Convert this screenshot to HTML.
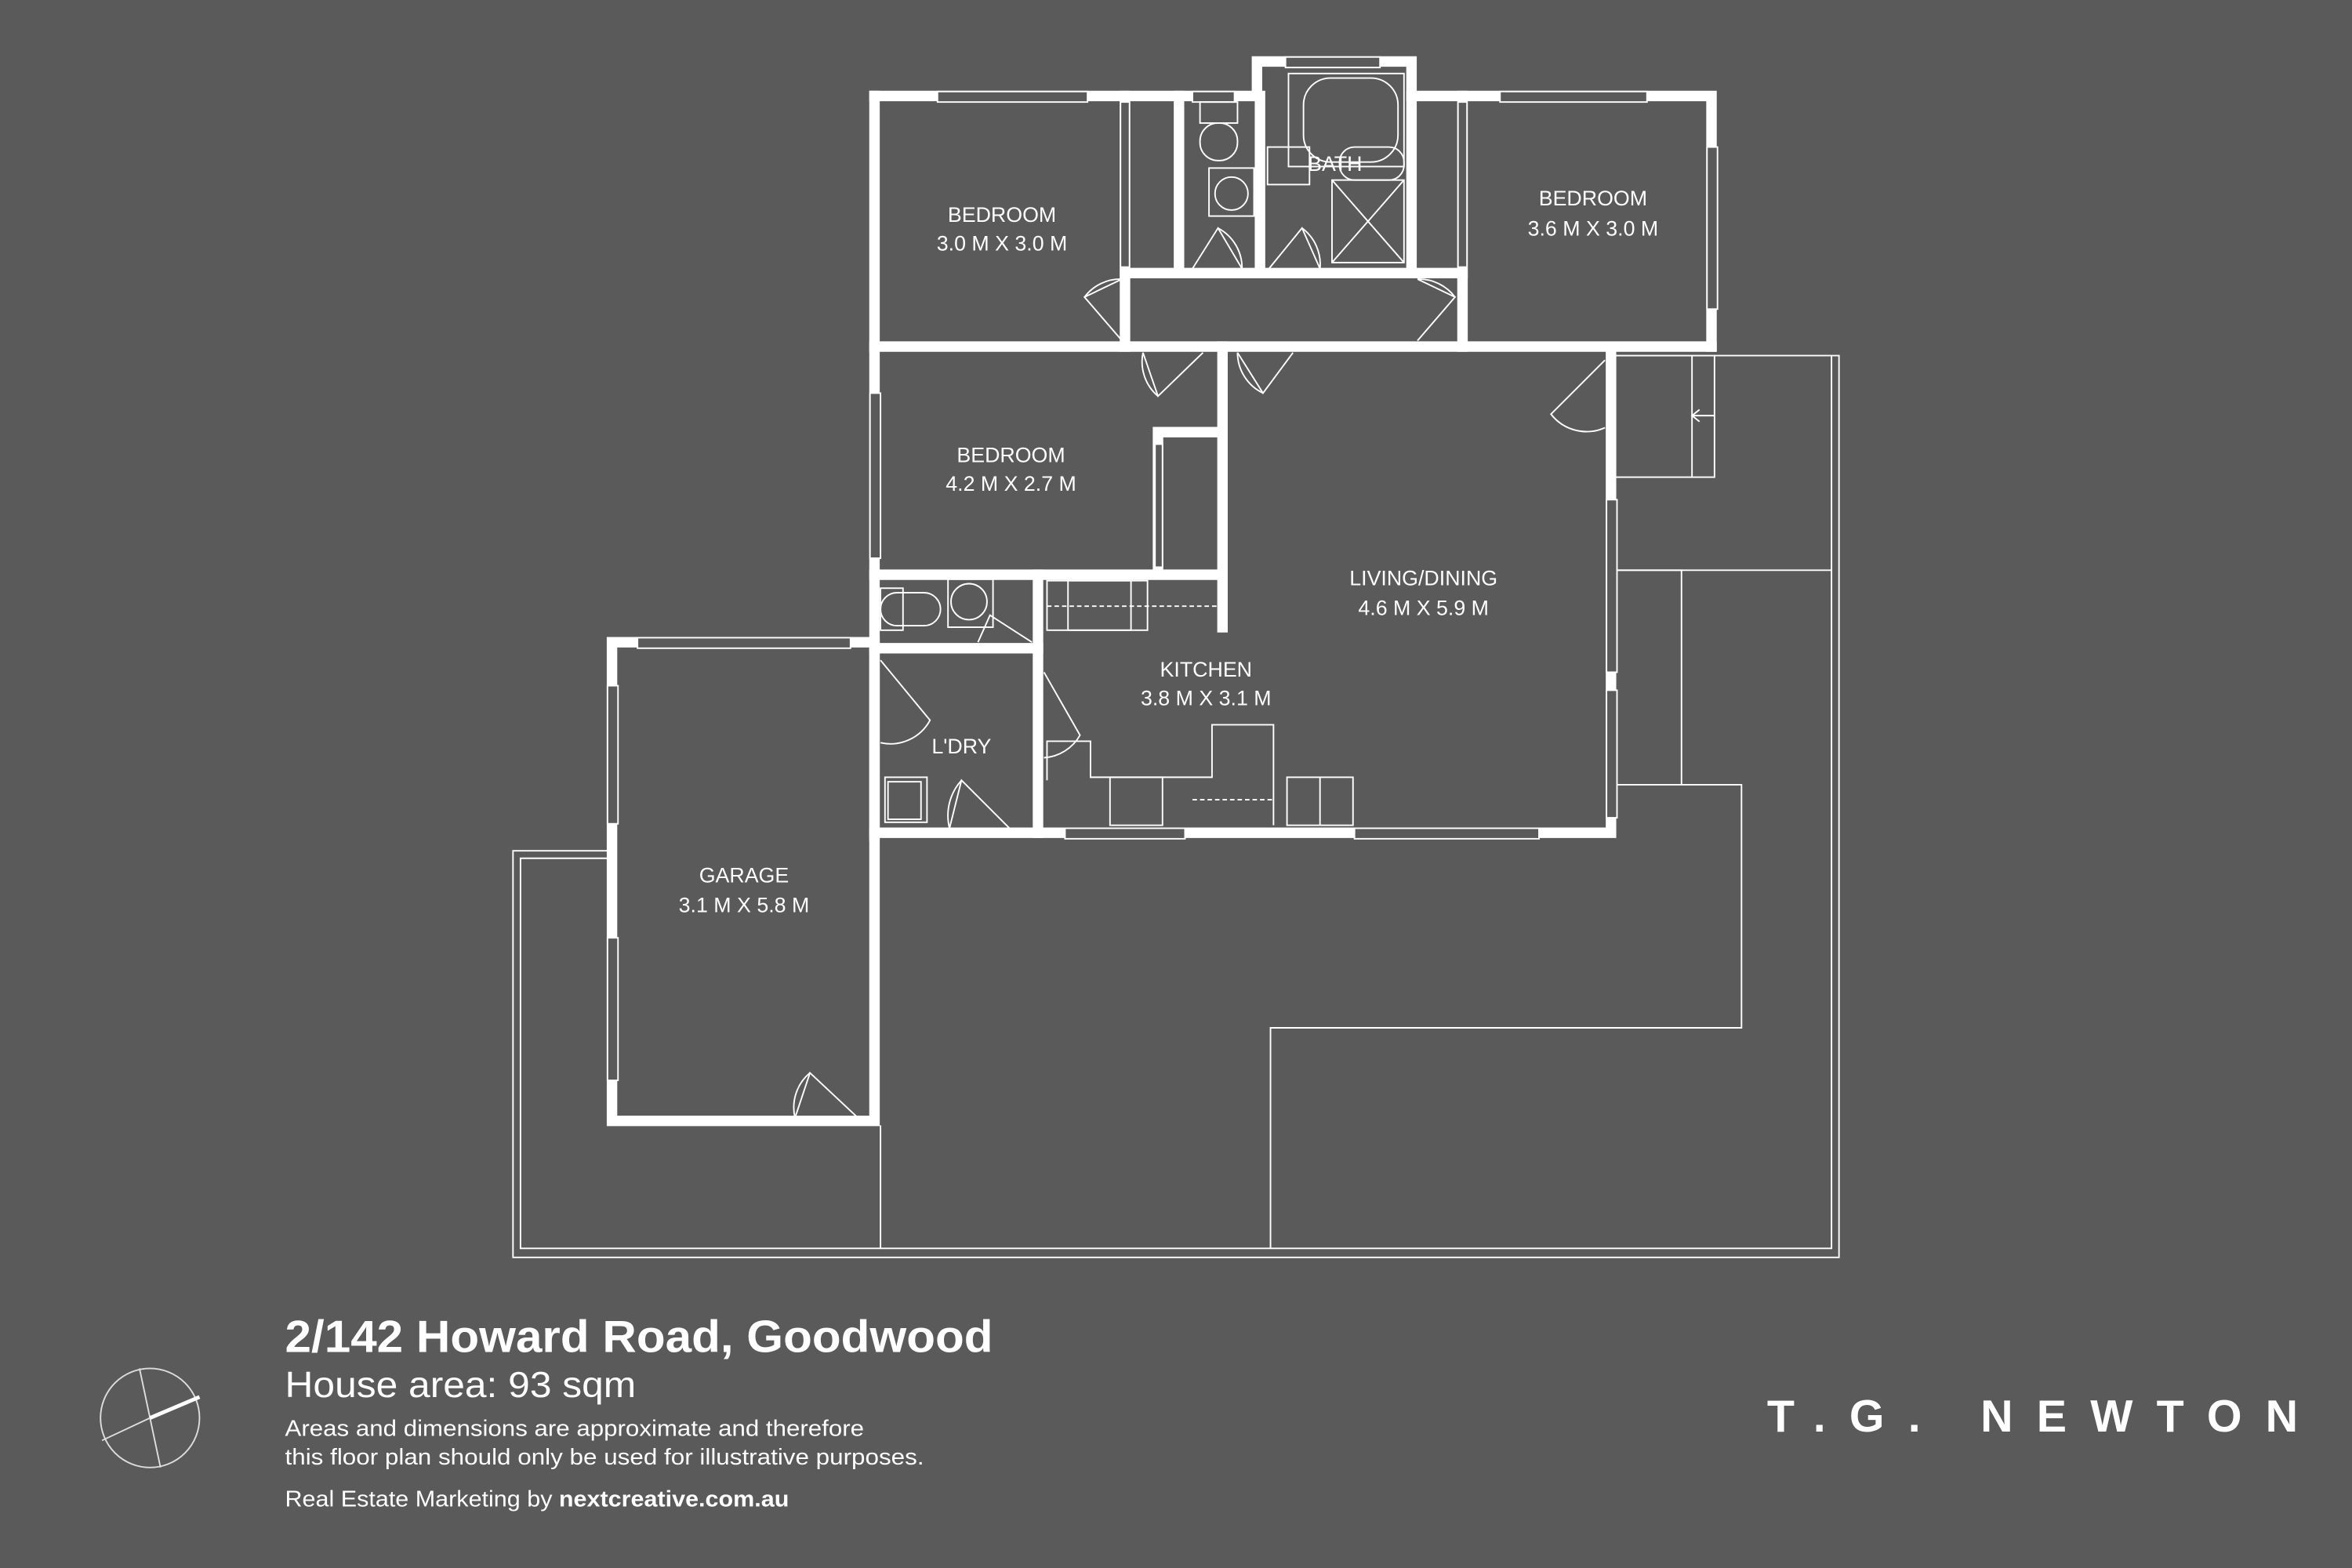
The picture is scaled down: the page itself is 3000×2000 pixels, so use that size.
<!DOCTYPE html>
<html><head><meta charset="utf-8"><style>
html,body{margin:0;padding:0;background:#5a5a5a;}
svg{display:block;}
.w{stroke:#fff;stroke-width:7;fill:none;stroke-linecap:square}
.t{stroke:#fff;stroke-width:1;fill:none}
.win{fill:#5a5a5a;stroke:#fff;stroke-width:1}
.lbl{font-family:"Liberation Sans",sans-serif;fill:#fff;font-size:14px;text-anchor:middle}
</style></head><body>
<svg width="3000" height="2000" viewBox="0 0 1568 1045" preserveAspectRatio="none" xmlns="http://www.w3.org/2000/svg">
<rect width="1568" height="1045" fill="#5a5a5a"/>
<g class="t">
<polyline points="405,567 342,567 342,838 1226,838 1226,237 1143,237"/>
<polyline points="405,572 347,572 347,832 1221,832 1221,237"/>
<line x1="587" y1="750" x2="587" y2="832"/>
<polyline points="847,832 847,685 1161,685 1161,523 1077,523"/>
<polyline points="1121,523 1121,380 1077,380"/>
<line x1="1077" y1="380" x2="1221" y2="380"/>
<rect x="1077" y="237" width="66" height="81"/>
<line x1="1128" y1="237" x2="1128" y2="318"/>
<line x1="1143" y1="277" x2="1128" y2="277"/>
<polyline points="1133,273 1128,277 1133,281"/>
</g>
<g class="w">
<polyline points="583,64 838,64 838,41 941,41 941,64 1141,64 1141,231"/>
<line x1="583" y1="64" x2="583" y2="557"/>
<line x1="583" y1="231" x2="1141" y2="231"/>
<polyline points="1074,234 1074,555 583,555"/>
<line x1="750" y1="64" x2="750" y2="231"/>
<line x1="975" y1="64" x2="975" y2="231"/>
<line x1="750" y1="182" x2="975" y2="182"/>
<line x1="786" y1="64" x2="786" y2="182"/>
<line x1="840" y1="64" x2="840" y2="182"/>
<line x1="941" y1="64" x2="941" y2="182"/>
<line x1="815" y1="231" x2="815" y2="418"/>
<polyline points="772,381 772,288 815,288"/>
<line x1="583" y1="383" x2="815" y2="383"/>
<line x1="583" y1="432" x2="692" y2="432"/>
<line x1="692" y1="383" x2="692" y2="555"/>
<polyline points="583,428 408,428 408,747 583,747 583,428"/>
</g>
<g class="win">
<rect x="625" y="61" width="100" height="7"/><rect x="795" y="61" width="28" height="7"/>
<rect x="857" y="38" width="63" height="7"/><rect x="1000" y="61" width="98" height="7"/>
<rect x="1138" y="98" width="7" height="108"/><rect x="580" y="262" width="7" height="110"/>
<rect x="425" y="425" width="142" height="7"/><rect x="405" y="457" width="7" height="92"/>
<rect x="405" y="625" width="7" height="95"/><rect x="1071" y="333" width="7" height="115"/>
<rect x="1071" y="460" width="7" height="85"/><rect x="710" y="552" width="80" height="7"/>
<rect x="903" y="552" width="123" height="7"/><rect x="747" y="68" width="6" height="110"/>
<rect x="972" y="68" width="6" height="110"/><rect x="770" y="296" width="5" height="82"/>
</g>
<g class="t">
<path d="M748,186 L723,198 L748,227 M723,198 A30,30 0 0 1 748,186"/>
<path d="M945,186 L970,198 L945,227 M970,198 A30,30 0 0 0 945,186"/>
<path d="M762,235 L772,264 L802,235 M762,235 A30,30 0 0 0 772,264"/>
<path d="M825,235 L842,262 L862,235 M825,235 A30,30 0 0 0 842,262"/>
<path d="M1070,240 L1034,276 A30,30 0 0 0 1070,285"/>
<path d="M587,440 L620,480 A30,30 0 0 1 587,495"/>
<path d="M696,448 L720,490 A30,30 0 0 1 696,505"/>
<path d="M633,552 L641,520 L673,552 M641,520 A35,35 0 0 0 633,552"/>
<path d="M530,745 L540,715 L572,745 M540,715 A30,30 0 0 0 530,745"/>
<path d="M795,179 L812,152 L828,179 M812,152 A30,30 0 0 1 828,179"/>
<path d="M846,179 L868,152 L880,179 M868,152 A30,30 0 0 1 880,179"/>
<path d="M652,428 L660,410 L688,428"/>
<rect x="859" y="49" width="77" height="62"/><rect x="869" y="52" width="63" height="56" rx="18"/>
<rect x="845" y="98" width="28" height="25"/><rect x="888" y="120" width="48" height="55"/>
<path d="M888,120 L936,175 M936,120 L888,175"/>
<rect x="893" y="98" width="43" height="22" rx="10"/>
<rect x="806" y="112" width="30" height="32"/><circle cx="821" cy="129" r="11"/>
<rect x="800" y="68" width="25" height="14"/><rect x="800" y="82" width="25" height="25" rx="12"/>
<rect x="587" y="392" width="15" height="28"/><rect x="587" y="395" width="40" height="22" rx="11"/>
<rect x="632" y="386" width="30" height="32"/><circle cx="646" cy="401" r="12"/>
<rect x="698" y="387" width="67" height="33"/><rect x="712" y="387" width="42" height="33"/>
<path d="M698,404 L812,404" stroke-dasharray="3,2"/>
<polyline points="698,520 698,494 727,494 727,518 808,518 808,483 849,483 849,550"/>
<rect x="740" y="518" width="35" height="32"/><rect x="858" y="518" width="44" height="32"/>
<line x1="880" y1="518" x2="880" y2="550"/>
<path d="M795,533 L848,533" stroke-dasharray="3,2"/>
<rect x="590" y="518" width="28" height="30"/><rect x="592" y="521" width="22" height="25"/>
</g>
<g class="lbl">
<text x="668" y="148">BEDROOM</text><text x="668" y="167">3.0 M X 3.0 M</text>
<text x="1062" y="137">BEDROOM</text><text x="1062" y="157">3.6 M X 3.0 M</text>
<text x="890" y="114">BATH</text>
<text x="674" y="308">BEDROOM</text><text x="674" y="327">4.2 M X 2.7 M</text>
<text x="949" y="390">LIVING/DINING</text><text x="949" y="410">4.6 M X 5.9 M</text>
<text x="804" y="451">KITCHEN</text><text x="804" y="470">3.8 M X 3.1 M</text>
<text x="641" y="502">L'DRY</text>
<text x="496" y="588">GARAGE</text><text x="496" y="608">3.1 M X 5.8 M</text>
</g>
<circle cx="100" cy="945" r="33" fill="none" stroke="#ddd" stroke-width="1"/>
<line x1="93" y1="912" x2="107" y2="978" stroke="#ddd" stroke-width="1"/>
<line x1="68" y1="960" x2="100" y2="945" stroke="#ddd" stroke-width="1"/>
<line x1="100" y1="945" x2="133" y2="931" stroke="#fff" stroke-width="2.5"/>
<g font-family="Liberation Sans, sans-serif" fill="#fff">
<text x="190" y="901" font-size="30" font-weight="bold" textLength="472" lengthAdjust="spacingAndGlyphs">2/142 Howard Road, Goodwood</text>
<text x="190" y="931" font-size="24" textLength="234" lengthAdjust="spacingAndGlyphs">House area: 93 sqm</text>
<text x="190" y="957" font-size="15" textLength="386" lengthAdjust="spacingAndGlyphs">Areas and dimensions are approximate and therefore</text>
<text x="190" y="976" font-size="15" textLength="426" lengthAdjust="spacingAndGlyphs">this floor plan should only be used for illustrative purposes.</text>
<text x="190" y="1004" font-size="15" textLength="336" lengthAdjust="spacingAndGlyphs">Real Estate Marketing by <tspan font-weight="bold">nextcreative.com.au</tspan></text>
<text x="1178" y="954" font-size="30" font-weight="bold" textLength="354" lengthAdjust="spacing">T.G. NEWTON</text>
</g>
</svg>
</body></html>
